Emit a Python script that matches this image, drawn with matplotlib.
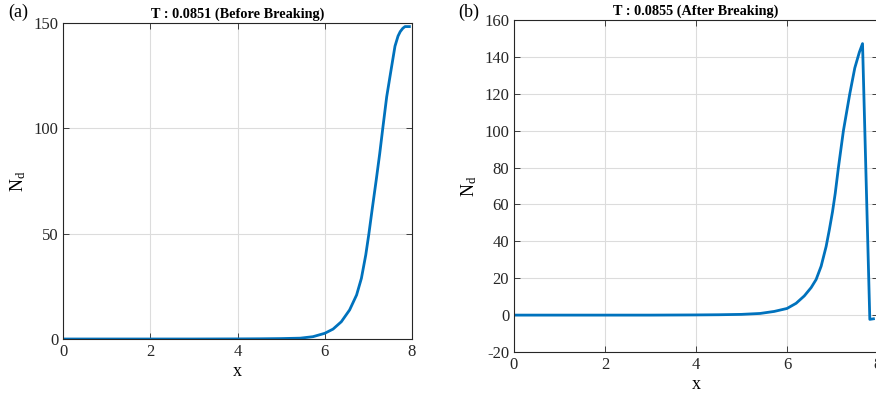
import matplotlib
matplotlib.use("Agg")
import matplotlib.pyplot as plt

plt.rcParams['font.family'] = ['Liberation Serif', 'DejaVu Serif']
plt.rcParams['mathtext.fontset'] = 'custom'
plt.rcParams['mathtext.rm'] = 'Liberation Serif'
plt.rcParams['mathtext.it'] = 'Liberation Serif:italic'
plt.rcParams['axes.unicode_minus'] = False

# Panel (a): before breaking
xa = [0, 1, 2, 3, 4, 4.5, 5, 5.44, 5.73, 6.0, 6.19, 6.38, 6.57, 6.73, 6.84, 6.94,
      7.01, 7.09, 7.18, 7.26, 7.33, 7.42, 7.52, 7.61, 7.68, 7.73, 7.79, 7.84, 7.94]
ya = [0, 0, 0, 0, 0.05, 0.1, 0.2, 0.4, 1.1, 2.7, 4.7, 8.2, 13.8, 20.9, 28.8, 39.9,
      49.7, 62.0, 75.5, 88.0, 100.0, 115.0, 127.7, 139.0, 143.8, 145.9, 147.5, 148.3, 148.3]

# Panel (b): after breaking
xb = [0, 1, 2, 3, 4, 4.5, 5, 5.41, 5.72, 6.0, 6.2, 6.38, 6.53, 6.64, 6.75, 6.86, 6.93,
      7.0, 7.06, 7.13, 7.24, 7.38, 7.49, 7.59, 7.66, 7.82, 7.9]
yb = [0, 0, 0, 0, 0.1, 0.2, 0.4, 0.9, 2.0, 3.6, 6.4, 10.4, 14.9, 19.3, 26.5, 37.2, 46.2,
      56.0, 66.0, 80.0, 100.0, 120.0, 134.0, 142.5, 147.2, -2.3, -2.0]

titles = ["T : 0.0851 (Before Breaking)", "T : 0.0855 (After Breaking)"]
labels = ["(a)", "(b)"]

W, H = 876, 401
fig = plt.figure(figsize=(W / 100, H / 100), dpi=100)

def box(l, r, t, b):
    return [l / W, (H - b) / H, (r - l) / W, (b - t) / H]

axA = fig.add_axes(box(63, 412, 23, 339))
axB = fig.add_axes(box(514, 878, 20, 352))

line_color = '#0072BD'
for ax, x, y, title in [(axA, xa, ya, titles[0]), (axB, xb, yb, titles[1])]:
    ax.plot(x, y, color=line_color, lw=2.0, solid_joinstyle='round')
    ax.set_xlim(0, 8)
    ax.set_xticks([0, 2, 4, 6, 8])
    ax.grid(True, color='#dcdcdc', lw=0.8)
    ax.set_axisbelow(True)
    ax.tick_params(direction='in', top=True, right=True, labelsize=12,
                   colors='#262626', length=4, width=0.6)
    for s in ax.spines.values():
        s.set_color('#262626')
        s.set_linewidth(0.8)
    ax.set_title(title, fontsize=10.3, fontweight='bold', pad=4)
    ax.set_xlabel('x', fontsize=13, labelpad=2)
    ax.set_ylabel(r'N$_\mathrm{d}$', fontsize=13)

axA.set_ylim(0, 150)
axA.set_yticks([0, 50, 100, 150])
axB.set_ylim(-20, 160)
axB.set_yticks(list(range(-20, 161, 20)))

fig.text(8 / W, 1 - 12 / H, labels[0], fontsize=13, va='center', ha='left')
fig.text(458 / W, 1 - 12 / H, labels[1], fontsize=13, va='center', ha='left')

fig.savefig('out.png', dpi=100)
